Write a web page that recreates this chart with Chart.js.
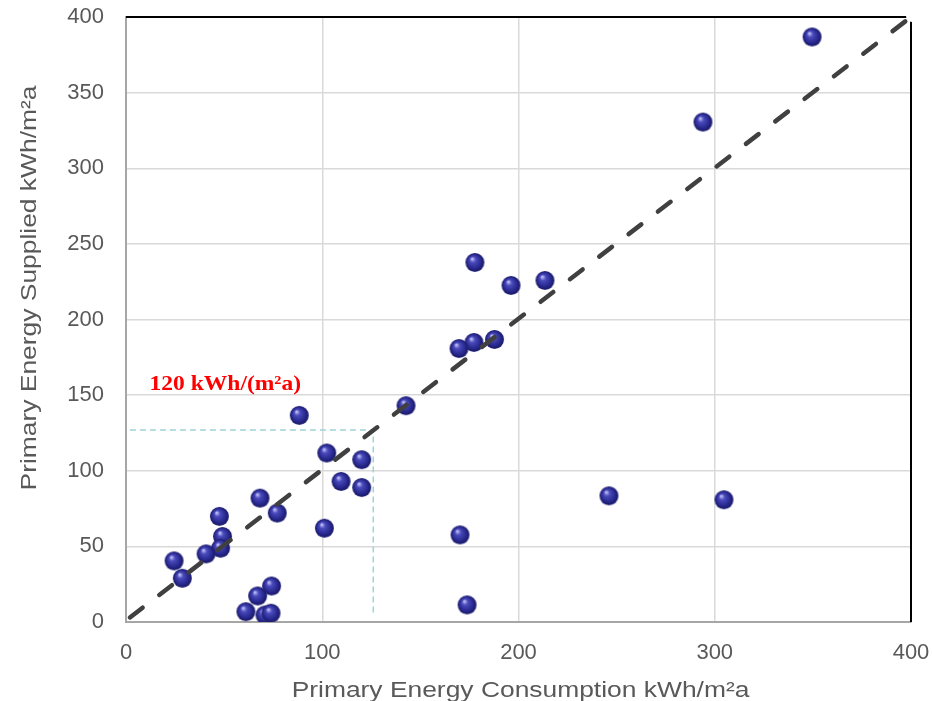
<!DOCTYPE html>
<html>
<head>
<meta charset="utf-8">
<script src="https://cdn.jsdelivr.net/npm/chart.js@4/dist/chart.umd.min.js"></script>
<style>
    body { margin: 0; background: #fff; }
    #wrap { width: 933px; height: 701px; }
</style>
</head>
<body>
<div id="wrap"><canvas id="chart" width="933" height="701"></canvas></div>
<script>
// Measured buildings: consumption vs supplied primary energy (kWh/m2a)
const consumption = [349.6, 294, 213.5, 196.2, 177.8, 187.8, 177.3, 169.7, 142.7, 88.3,
    102.3, 120.1, 109.6, 120.1, 101.1, 68.3, 77.1, 47.6, 49.2, 48.2, 40.8, 24.5, 28.7,
    74.2, 67.1, 61.1, 70.8, 73.9, 170.2, 173.8, 246.1, 304.7];
const supplied = [386.8, 330.5, 225.8, 222.5, 237.7, 186.8, 184.8, 180.8, 143, 136.6,
    111.7, 107.3, 92.9, 88.9, 62, 81.9, 72, 69.8, 56.5, 48.8, 45, 40.4, 28.9,
    23.8, 17.2, 6.8, 4.6, 5.8, 57.6, 11.3, 83.4, 80.8];

// 1:1 reference line
const diagX = [2, 400];
const diagY = [3, 400];

// 120 kWh/(m2a) guide lines
const guideX = [2, 126, 126];
const guideY = [127, 127, 6];
const guideLabel = '120 kWh/(m²a)';
const guideLabelPos = { x: 12, y: 157 };

const xTitle = 'Primary Energy Consumption kWh/m²a';
const yTitle = 'Primary Energy Supplied kWh/m²a';

function toPoints(xs, ys) {
    return xs.map((x, i) => ({ x: x, y: ys[i] }));
}

// shaded ball marker
function makeBall(r) {
    const c = document.createElement('canvas');
    c.width = c.height = r * 2 + 2;
    const g = c.getContext('2d');
    const cx = r + 1, cy = r + 1;
    const grad = g.createRadialGradient(cx - r * 0.3, cy - r * 0.4, r * 0.05, cx, cy, r);
    grad.addColorStop(0, '#c0c0f8');
    grad.addColorStop(0.28, '#4a4abc');
    grad.addColorStop(0.75, '#26268c');
    grad.addColorStop(0.92, '#1c1c6a');
    grad.addColorStop(1, '#34348a');
    g.fillStyle = grad;
    g.beginPath();
    g.arc(cx, cy, r, 0, Math.PI * 2);
    g.fill();
    return c;
}

const ball = makeBall(9.5);

// frame + stretched texts
const framePlugin = {
    id: 'frame',
    afterDraw(chart) {
        const ctx = chart.ctx;
        const a = chart.chartArea;
        ctx.save();
        ctx.strokeStyle = '#000';
        ctx.lineWidth = 2;
        ctx.beginPath();
        ctx.moveTo(a.left, a.top);
        ctx.lineTo(a.right, a.top);
        ctx.lineTo(a.right, a.bottom);
        ctx.stroke();

        // end dot of reference line
        ctx.fillStyle = '#fff';
        ctx.beginPath();
        ctx.arc(a.right + 1, a.top - 1, 6, 0, Math.PI * 2);
        ctx.fill();

        ctx.fillStyle = '#595959';
        ctx.font = '22px "Liberation Sans", Arial, sans-serif';
        ctx.textAlign = 'center';
        ctx.textBaseline = 'alphabetic';
        ctx.save();
        ctx.translate((a.left + a.right) / 2 + 2, 697);
        ctx.scale(1.2, 1);
        ctx.fillText(xTitle, 0, 0);
        ctx.restore();

        ctx.save();
        ctx.translate(36, 288);
        ctx.rotate(-Math.PI / 2);
        ctx.scale(1.2, 1);
        ctx.fillText(yTitle, 0, 0);
        ctx.restore();

        const xs = chart.scales.x, ys = chart.scales.y;
        ctx.save();
        ctx.fillStyle = '#ff0000';
        ctx.font = 'bold 21px "Liberation Serif", "Times New Roman", serif';
        ctx.textAlign = 'left';
        ctx.textBaseline = 'middle';
        ctx.translate(xs.getPixelForValue(guideLabelPos.x), ys.getPixelForValue(guideLabelPos.y));
        ctx.scale(1.12, 1);
        ctx.fillText(guideLabel, 0, 0);
        ctx.restore();
        ctx.restore();
    }
};

const ctx = document.getElementById('chart').getContext('2d');
new Chart(ctx, {
    type: 'scatter',
    data: {
        datasets: [{
            data: toPoints(diagX, diagY),
            showLine: true,
            borderColor: '#404040',
            borderWidth: 4.5,
            borderDash: [16, 21],
            borderCapStyle: 'round',
            pointRadius: 0,
            order: 0,
            clip: false
        }, {
            data: toPoints(consumption, supplied),
            pointStyle: ball,
            pointRadius: 10,
            order: 1
        }, {
            data: toPoints(guideX, guideY),
            showLine: true,
            borderColor: '#9fd3d8',
            borderWidth: 1.5,
            borderDash: [6, 4],
            pointRadius: 0,
            order: 2
        }]
    },
    options: {
        responsive: false,
        animation: false,
        events: [],
        layout: { padding: { left: 0, right: 22, top: 17, bottom: 0 } },
        plugins: { legend: { display: false }, tooltip: { enabled: false } },
        scales: {
            x: {
                min: 0, max: 400,
                afterFit: s => {
                    s.height = 79;
                    s.paddingLeft = 0;
                    s.paddingRight = 0;
                },
                grid: { color: '#d9d9d9', lineWidth: 1.5, drawTicks: false },
                border: { color: '#a6a6a6', width: 2 },
                ticks: {
                    stepSize: 100, padding: 18, color: '#595959',
                    font: { family: '"Liberation Sans", Arial, sans-serif', size: 22 }
                }
            },
            y: {
                min: 0, max: 400,
                afterFit: s => {
                    s.width = 126;
                    s.paddingTop = 0;
                    s.paddingBottom = 0;
                },
                grid: { color: '#d9d9d9', lineWidth: 1.5, drawTicks: false },
                border: { color: '#a6a6a6', width: 2 },
                ticks: {
                    stepSize: 50, padding: 22, color: '#595959',
                    font: { family: '"Liberation Sans", Arial, sans-serif', size: 22 }
                }
            }
        }
    },
    plugins: [framePlugin]
});
</script>
</body>
</html>
